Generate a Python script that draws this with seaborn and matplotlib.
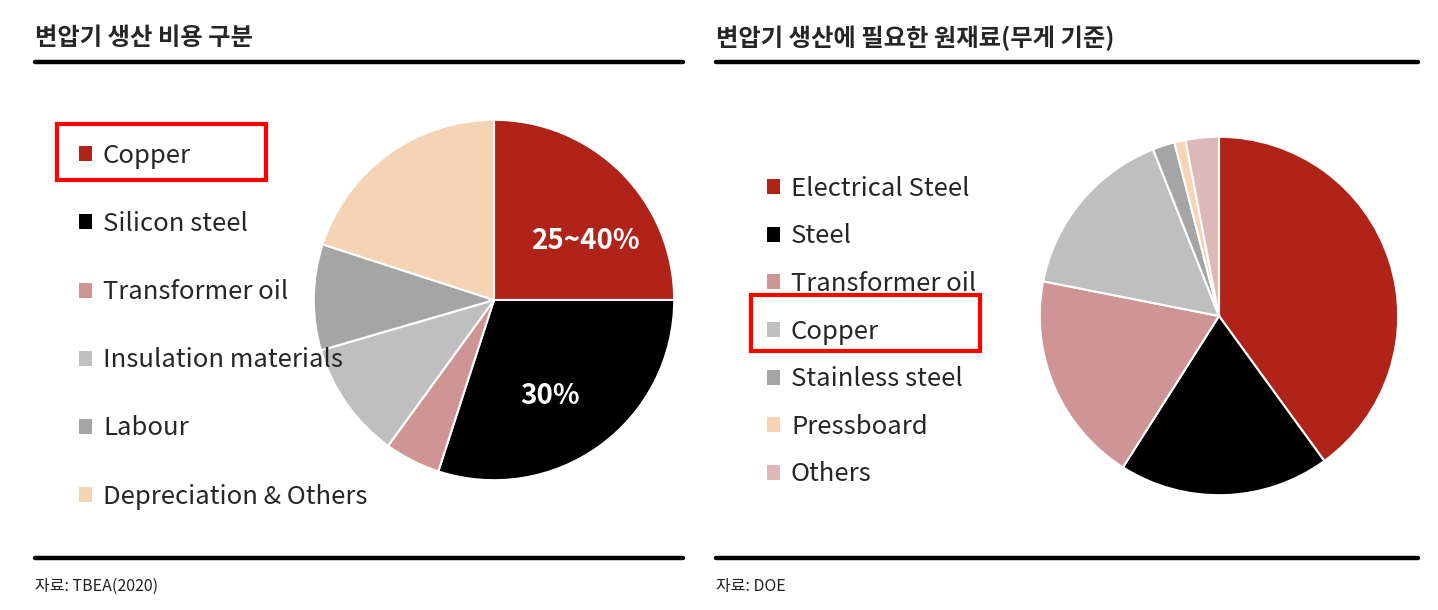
import numpy as np
import pandas as pd
import seaborn as sns
import matplotlib
matplotlib.use("Agg")
import matplotlib.pyplot as plt
from matplotlib.patches import Patch, Rectangle
from matplotlib.lines import Line2D

# left chart: cost split
cost_labels = ['Copper', 'Silicon steel', 'Transformer oil', 'Insulation materials',
               'Labour', 'Depreciation & Others']
cost_share = [25, 30, 5, 10.5, 9.5, 20]
cost_text = ['25~40%', '30%', '', '', '', '']
cost_colors = ['#B02318', '#000000', '#CE9594', '#BFBFBF', '#A5A5A5', '#F4D4B5']

# right chart: raw materials by weight
mat_labels = ['Electrical Steel', 'Steel', 'Transformer oil', 'Copper',
              'Stainless steel', 'Pressboard', 'Others']
mat_share = [40, 19, 19.1, 15.9, 2, 1, 3]
mat_colors = ['#B02318', '#000000', '#CE9594', '#BFBFBF', '#A5A5A5', '#F6D4B5', '#DDB8B9']

titles = ['변압기 생산 비용 구분', '변압기 생산에 필요한 원재료(무게 기준)']
sources = ['자료: TBEA(2020)', '자료: DOE']

sns.set_theme(style="white")
plt.rcParams['font.family'] = ['Noto Sans CJK KR', 'DejaVu Sans']

W, H = 1438, 610
fig = plt.figure(figsize=(W / 100, H / 100), dpi=100)

def fx(x):
    return x / W

def fy(y):
    return 1 - y / H

def pie_axes(cx, cy, r):
    ax = fig.add_axes([fx(cx - r), fy(cy + r), 2 * r / W, 2 * r / H])
    return ax

# left pie
ax1 = pie_axes(494, 300, 182)
wedges, texts = ax1.pie(cost_share, colors=cost_colors, startangle=90, counterclock=False,
                        labels=cost_text, labeldistance=0.55,
                        wedgeprops=dict(edgecolor='white', linewidth=1.5))
# the value labels sit off the wedge middle in the original
label_pos = [(0.51, 0.33), (0.31, -0.53)]
for t, pos in zip(texts, label_pos):
    t.set_position(pos)
for t in texts:
    t.set_color('white')
    t.set_fontsize(20)
    t.set_fontweight('bold')
    t.set_ha('center')
    t.set_va('center')
ax1.set_xlim(-1.01, 1.01)
ax1.set_ylim(-1.01, 1.01)
ax1.axis('off')

# right pie
ax2 = pie_axes(1219, 316, 181)
ax2.pie(mat_share, colors=mat_colors, startangle=90, counterclock=False,
        wedgeprops=dict(edgecolor='white', linewidth=1.5))
ax2.set_xlim(-1.01, 1.01)
ax2.set_ylim(-1.01, 1.01)
ax2.axis('off')

# legends
h1 = [Patch(facecolor=c, edgecolor='none') for c in cost_colors]
fig.legend(h1, cost_labels, loc='upper left', bbox_to_anchor=(fx(66), fy(130)),
           frameon=False, fontsize=18.5, handlelength=0.52, handleheight=0.52,
           handletextpad=0.42, labelspacing=1.64, borderpad=0)
h2 = [Patch(facecolor=c, edgecolor='none') for c in mat_colors]
fig.legend(h2, mat_labels, loc='upper left', bbox_to_anchor=(fx(754), fy(163)),
           frameon=False, fontsize=18.5, handlelength=0.52, handleheight=0.52,
           handletextpad=0.42, labelspacing=0.84, borderpad=0)

# highlight boxes
for x0, y0, x1, y1 in [(57, 124, 266, 180), (751, 295, 980, 351)]:
    fig.add_artist(Rectangle((fx(x0), fy(y1)), (x1 - x0) / W, (y1 - y0) / H,
                             transform=fig.transFigure, fill=False,
                             edgecolor='#FF0000', linewidth=3))

# titles, rules, sources
for (x0, x1), title, src in zip([(35, 683), (716, 1418)], titles, sources):
    fig.text(fx(x0), fy(38), title, fontsize=17.5, fontweight='bold', va='center', ha='left')
    for yy in (62, 558):
        fig.add_artist(Line2D([fx(x0), fx(x1)], [fy(yy), fy(yy)], transform=fig.transFigure,
                              color='black', linewidth=3.2))
    fig.text(fx(x0), fy(586), src, fontsize=11.5, va='center', ha='left', color='#222222')

fig.savefig('out.png', dpi=100)
